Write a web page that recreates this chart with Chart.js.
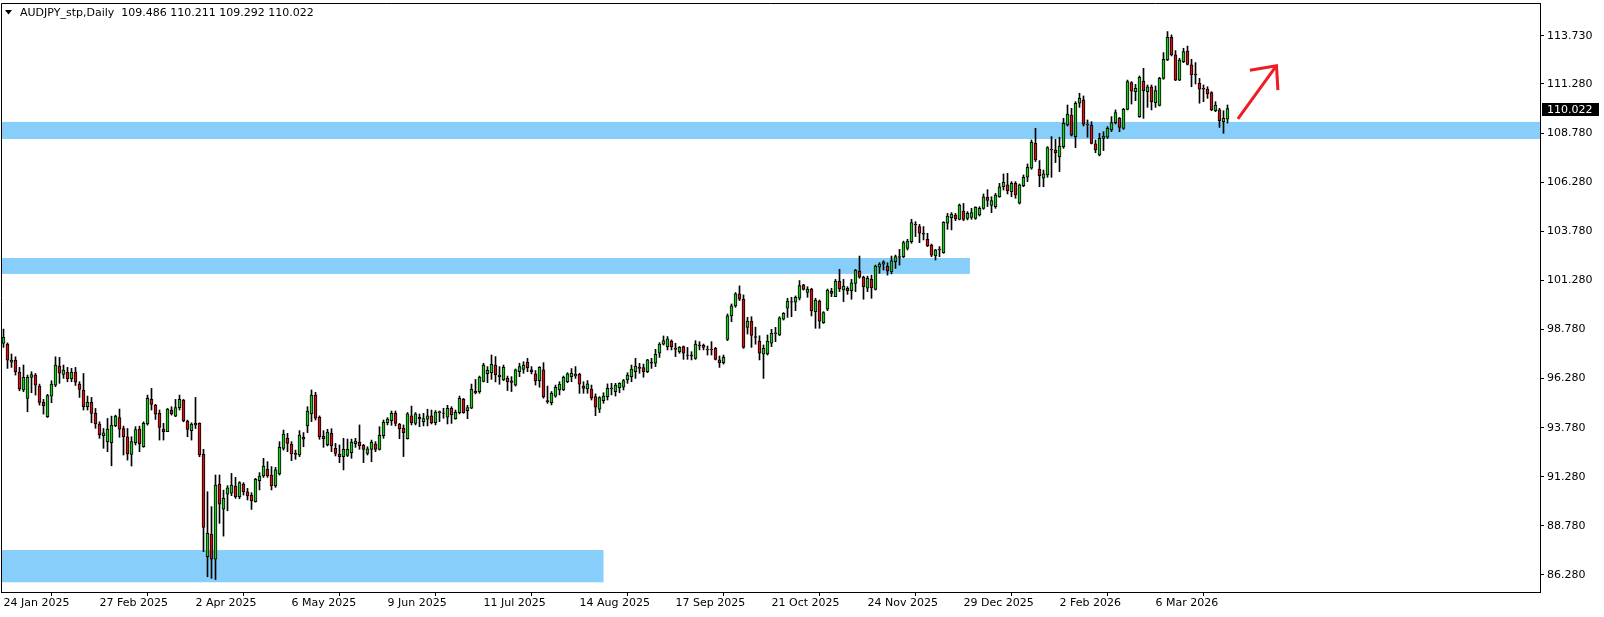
<!DOCTYPE html>
<html>
<head>
<meta charset="utf-8">
<script src="https://cdn.jsdelivr.net/npm/chart.js@4.4.1/dist/chart.umd.min.js"></script>
<style>
  html, body { margin: 0; padding: 0; background: #fff; }
  #wrap { width: 1604px; height: 617px; }
</style>
</head>
<body>
<div id="wrap"><canvas id="chart" width="1604" height="617"></canvas></div>
<script>
// ---------- DATA (AUDJPY daily) ----------
const symbolTitle = "AUDJPY_stp,Daily";

const opens = [
  98.07, 98.04, 97.11, 97.22, 96.61, 95.70, 95.27, 96.34, 96.46, 95.90,
  95.07, 94.34, 95.39, 95.95, 96.92, 96.49, 96.61, 96.27, 96.61, 96.00,
  95.70, 94.85, 95.07, 94.51, 93.97, 93.37, 93.07, 93.02, 93.88, 94.30,
  93.74, 93.32, 92.42, 93.02, 93.71, 92.81, 93.97, 95.22, 94.93, 94.51,
  93.71, 93.58, 94.68, 94.37, 94.80, 95.19, 94.12, 93.63, 94.00, 94.00,
  92.42, 87.21, 88.36, 87.08, 90.91, 89.63, 90.39, 90.44, 90.81, 90.27,
  90.91, 90.52, 90.35, 90.01, 91.08, 91.32, 91.66, 91.37, 90.81, 91.42,
  92.73, 93.24, 92.95, 92.47, 92.39, 93.29, 93.87, 94.48, 95.44, 94.31,
  93.34, 92.92, 93.49, 92.73, 92.44, 92.31, 92.37, 92.51, 92.97, 93.03,
  92.90, 92.47, 92.68, 92.95, 92.68, 93.37, 94.04, 94.14, 94.51, 93.95,
  93.75, 93.22, 94.38, 94.00, 94.31, 94.09, 94.22, 94.38, 94.04, 94.55,
  94.53, 94.31, 94.77, 94.24, 94.55, 95.22, 94.65, 94.78, 95.63, 95.61,
  96.14, 96.53, 96.58, 96.97, 96.46, 96.21, 96.29, 96.17, 95.95, 96.63,
  96.75, 97.11, 96.72, 96.52, 96.18, 96.72, 95.16, 95.06, 95.39, 95.70,
  95.70, 96.12, 96.38, 96.41, 96.50, 95.90, 95.75, 95.75, 95.36, 94.72,
  95.16, 95.36, 95.75, 95.62, 95.82, 95.84, 96.21, 96.38, 96.63, 96.85,
  96.84, 96.63, 97.11, 97.06, 97.57, 98.03, 97.91, 98.19, 97.82, 97.65,
  97.91, 97.48, 97.48, 97.31, 97.99, 97.99, 97.77, 97.77, 97.82, 97.23,
  97.09, 98.28, 99.47, 99.98, 100.59, 100.32, 98.89, 99.21, 98.42, 98.19,
  97.52, 97.53, 98.08, 98.57, 98.50, 99.30, 99.86, 100.20, 100.17, 100.37,
  101.05, 100.67, 100.84, 99.69, 100.23, 99.13, 99.81, 100.74, 100.45, 101.25,
  100.79, 100.88, 100.76, 101.13, 101.76, 101.44, 100.88, 101.33, 100.82, 101.95,
  102.11, 102.01, 101.72, 102.23, 102.45, 102.49, 102.91, 103.25, 104.13, 104.02,
  103.68, 103.37, 103.08, 102.52, 102.86, 102.69, 104.19, 104.47, 104.61, 104.39,
  104.81, 104.44, 104.49, 104.44, 104.61, 104.95, 105.51, 105.10, 105.04, 105.54,
  106.05, 106.14, 105.80, 106.22, 105.21, 106.10, 106.53, 106.99, 108.26, 106.94,
  106.48, 106.65, 107.96, 107.92, 107.58, 108.09, 109.19, 109.70, 108.60, 110.30,
  110.47, 109.23, 109.19, 108.23, 107.67, 108.51, 108.57, 108.94, 109.31, 109.53,
  109.02, 109.99, 111.35, 110.89, 109.62, 111.43, 110.89, 111.14, 110.33, 110.19,
  111.57, 112.50, 113.66, 112.76, 111.48, 112.42, 112.96, 112.25, 111.79, 111.31,
  111.06, 111.02, 110.84, 109.92, 109.96, 109.36, 109.486
];

const highs = [
  98.80, 98.10, 97.53, 97.39, 96.85, 96.97, 96.46, 96.63, 96.54, 96.00,
  95.22, 95.48, 96.17, 97.39, 97.36, 96.97, 96.85, 96.80, 96.85, 96.12,
  96.54, 95.39, 95.32, 94.76, 94.08, 93.74, 94.25, 94.37, 94.42, 94.73,
  93.86, 93.74, 93.32, 93.83, 93.86, 94.08, 95.44, 95.78, 94.97, 94.68,
  94.00, 94.76, 94.85, 95.22, 95.44, 95.22, 94.17, 94.03, 95.32, 94.03,
  92.68, 90.52, 89.76, 91.37, 91.37, 90.60, 90.83, 91.45, 91.25, 91.03,
  90.98, 90.69, 90.47, 91.20, 91.49, 92.22, 92.05, 91.80, 91.76, 93.07,
  93.66, 93.49, 93.07, 92.64, 93.63, 93.53, 94.85, 95.70, 95.58, 94.38,
  93.63, 93.70, 93.73, 92.98, 92.90, 93.24, 93.20, 93.20, 93.24, 93.92,
  92.93, 92.81, 93.15, 93.07, 93.83, 94.17, 94.29, 94.63, 94.63, 94.00,
  93.92, 94.55, 94.88, 94.55, 94.48, 94.51, 94.72, 94.68, 94.65, 94.63,
  94.77, 94.92, 94.85, 94.68, 95.39, 95.27, 94.92, 96.00, 96.24, 96.41,
  97.06, 96.89, 97.48, 97.40, 96.89, 96.97, 96.41, 96.38, 96.77, 97.06,
  97.14, 97.31, 96.89, 96.69, 96.89, 97.09, 95.90, 95.62, 95.95, 96.12,
  96.41, 96.58, 96.79, 96.89, 96.55, 96.12, 96.18, 95.95, 95.50, 95.36,
  95.56, 96.01, 96.04, 96.04, 96.07, 96.24, 96.58, 96.97, 97.31, 97.06,
  97.02, 97.26, 97.31, 97.77, 98.11, 98.45, 98.42, 98.25, 98.08, 97.91,
  97.94, 97.87, 97.65, 98.21, 98.16, 98.04, 97.94, 98.16, 97.87, 97.43,
  97.48, 99.57, 100.08, 100.66, 101.00, 100.54, 99.40, 99.43, 98.90, 98.46,
  97.99, 98.50, 98.79, 98.89, 99.43, 99.64, 100.37, 100.42, 100.49, 101.27,
  101.08, 100.96, 100.88, 100.37, 100.28, 99.69, 100.84, 100.88, 101.33, 101.84,
  101.33, 100.96, 101.33, 101.84, 102.52, 101.50, 101.50, 101.55, 102.06, 102.18,
  102.28, 102.18, 102.52, 102.57, 102.86, 103.28, 103.37, 104.39, 104.27, 104.13,
  104.02, 103.68, 103.13, 102.86, 103.00, 104.27, 104.69, 104.73, 104.69, 105.17,
  105.20, 104.78, 104.95, 105.03, 105.03, 105.68, 105.90, 105.54, 105.71, 106.22,
  106.70, 106.73, 106.31, 106.31, 106.19, 106.65, 107.21, 108.43, 109.02, 107.38,
  106.90, 108.09, 108.60, 108.46, 108.57, 109.53, 110.21, 110.04, 110.38, 110.81,
  110.67, 109.45, 109.36, 108.43, 108.77, 108.85, 109.11, 109.62, 109.96, 109.58,
  110.04, 111.48, 111.40, 111.26, 111.69, 112.08, 111.23, 111.23, 111.18, 111.62,
  112.88, 113.95, 113.78, 112.98, 112.59, 113.10, 113.21, 112.54, 112.37, 111.57,
  111.23, 111.14, 110.89, 110.38, 110.04, 109.92, 110.211
];

const lows = [
  97.87, 96.80, 96.85, 96.46, 95.66, 95.61, 94.59, 95.56, 95.44, 94.93,
  94.47, 94.30, 95.05, 95.87, 96.04, 96.29, 96.12, 96.12, 95.93, 95.32,
  94.68, 94.68, 94.03, 93.75, 93.24, 92.73, 92.56, 91.84, 93.83, 93.29,
  92.39, 92.13, 91.83, 92.90, 92.56, 92.78, 93.91, 94.68, 94.20, 93.15,
  93.15, 93.58, 94.42, 94.34, 94.68, 94.08, 93.32, 93.15, 93.74, 92.30,
  87.47, 86.19, 86.11, 86.05, 88.91, 88.26, 89.55, 90.32, 90.18, 90.16,
  90.35, 90.10, 89.62, 89.99, 90.61, 91.25, 91.25, 90.61, 90.74, 91.37,
  92.64, 92.56, 92.10, 92.17, 92.31, 92.81, 93.53, 94.09, 94.17, 93.19,
  92.78, 92.85, 92.56, 92.34, 92.00, 91.63, 92.31, 92.22, 92.78, 92.68,
  92.00, 92.39, 92.05, 92.56, 92.64, 93.24, 93.92, 93.90, 93.87, 93.22,
  92.31, 93.20, 93.92, 93.92, 93.83, 93.87, 93.87, 93.97, 93.92, 94.09,
  94.26, 93.97, 94.00, 94.21, 94.48, 94.51, 94.24, 94.75, 95.50, 95.53,
  96.11, 96.07, 96.24, 96.11, 95.99, 96.18, 95.67, 95.62, 95.90, 96.38,
  96.55, 96.63, 96.52, 95.95, 95.84, 95.28, 95.02, 94.94, 95.33, 95.45,
  95.67, 96.07, 96.12, 96.29, 95.53, 95.53, 95.53, 95.19, 94.39, 94.55,
  95.02, 95.19, 95.45, 95.39, 95.56, 95.70, 96.04, 96.12, 96.29, 96.55,
  96.35, 96.58, 96.80, 96.89, 97.36, 97.99, 97.74, 97.74, 97.40, 97.57,
  97.26, 97.26, 97.23, 97.26, 97.74, 97.74, 97.48, 97.48, 97.23, 96.85,
  97.02, 98.21, 99.18, 99.91, 100.25, 97.82, 98.55, 97.87, 98.03, 97.23,
  96.29, 97.48, 97.91, 98.16, 98.47, 99.26, 99.40, 99.43, 99.74, 100.28,
  100.79, 100.42, 99.47, 98.84, 98.84, 99.09, 99.74, 100.45, 100.45, 100.71,
  100.20, 100.57, 100.32, 100.71, 101.39, 100.32, 100.71, 100.37, 100.79, 101.64,
  101.81, 101.55, 101.61, 101.89, 102.06, 102.44, 102.83, 103.17, 103.51, 103.20,
  103.34, 103.00, 102.49, 102.32, 102.49, 102.66, 103.88, 103.85, 104.32, 104.36,
  104.32, 104.36, 104.39, 104.39, 104.56, 104.90, 105.04, 104.73, 104.95, 105.51,
  105.88, 105.68, 105.54, 105.46, 105.17, 106.05, 106.31, 106.94, 107.33, 106.05,
  106.05, 106.53, 106.53, 107.28, 106.82, 108.00, 109.14, 108.63, 108.04, 110.09,
  109.14, 108.57, 108.23, 107.78, 107.62, 107.89, 108.51, 108.85, 109.24, 108.85,
  108.97, 109.96, 110.26, 110.43, 109.58, 109.53, 110.09, 109.96, 110.09, 110.16,
  111.52, 112.47, 112.71, 111.45, 111.45, 112.37, 112.25, 111.14, 111.28, 110.30,
  110.38, 110.55, 109.92, 109.87, 109.07, 108.77, 109.292
];

const closes = [
  98.38, 97.22, 97.22, 96.63, 95.76, 96.34, 96.34, 96.49, 95.95, 95.07,
  94.90, 95.42, 96.00, 96.97, 96.55, 96.71, 96.27, 96.61, 96.10, 95.73,
  94.85, 95.07, 94.51, 93.97, 93.41, 93.52, 93.71, 93.91, 94.37, 93.71,
  93.32, 92.44, 93.07, 93.69, 92.95, 94.00, 95.27, 94.97, 94.47, 93.80,
  93.58, 94.73, 94.49, 94.81, 95.22, 94.12, 93.69, 93.97, 93.92, 92.39,
  88.70, 88.40, 87.08, 90.86, 89.88, 90.18, 90.72, 90.86, 90.27, 90.98,
  90.52, 90.30, 90.06, 91.15, 91.32, 91.83, 91.32, 90.81, 91.63, 92.78,
  93.46, 92.98, 92.45, 92.42, 93.41, 93.19, 94.63, 95.44, 94.26, 93.32,
  93.22, 93.56, 92.85, 92.47, 92.31, 92.68, 92.68, 93.05, 93.10, 92.87,
  92.68, 92.70, 93.03, 92.68, 93.39, 94.05, 94.22, 94.51, 94.00, 93.73,
  93.53, 94.48, 94.04, 94.48, 94.24, 94.24, 94.39, 94.04, 94.58, 94.60,
  94.51, 94.77, 94.43, 94.56, 95.27, 94.55, 94.80, 95.73, 95.56, 96.36,
  96.97, 96.70, 97.01, 96.48, 96.38, 96.85, 96.12, 96.09, 96.72, 96.89,
  96.97, 96.84, 96.63, 96.18, 96.85, 95.36, 95.11, 95.53, 95.84, 95.99,
  96.35, 96.52, 96.55, 96.50, 95.99, 95.78, 96.01, 95.28, 94.82, 95.31,
  95.39, 95.78, 95.80, 95.95, 96.04, 96.18, 96.46, 96.77, 96.92, 96.80,
  96.63, 97.23, 97.06, 97.52, 98.04, 98.21, 98.30, 97.91, 97.77, 97.87,
  97.57, 97.46, 97.43, 98.04, 97.94, 97.87, 97.74, 97.74, 97.26, 97.09,
  97.36, 99.47, 99.98, 100.59, 100.32, 97.87, 99.21, 98.48, 98.38, 97.57,
  97.82, 98.19, 98.58, 98.61, 99.38, 99.60, 100.23, 100.17, 100.42, 101.01,
  100.82, 100.84, 99.72, 100.28, 99.21, 99.64, 100.79, 100.62, 101.25, 100.84,
  100.99, 100.76, 101.16, 101.81, 101.44, 100.96, 101.39, 100.91, 102.01, 102.11,
  102.23, 101.76, 102.27, 102.49, 102.49, 103.20, 103.28, 104.22, 104.10, 103.68,
  103.63, 103.03, 102.57, 102.83, 102.83, 104.24, 104.56, 104.66, 104.41, 105.12,
  104.39, 104.69, 104.73, 105.00, 104.95, 105.54, 105.35, 105.34, 105.63, 106.05,
  106.27, 105.85, 106.22, 105.63, 106.14, 106.53, 107.04, 108.31, 107.41, 106.61,
  106.70, 108.04, 107.92, 107.78, 108.12, 109.28, 109.75, 108.68, 110.30, 110.55,
  109.23, 109.21, 108.26, 107.92, 108.51, 108.63, 109.02, 109.31, 109.82, 109.07,
  109.99, 111.40, 110.92, 111.06, 111.62, 110.94, 111.14, 110.38, 110.94, 111.57,
  112.54, 113.66, 112.76, 111.48, 112.50, 112.93, 112.28, 111.74, 111.74, 111.02,
  111.02, 110.77, 109.96, 110.21, 109.41, 109.53, 110.022
];

// date labels every 24 bars
const tickEvery = 24;
const dateLabels = [
  "24 Jan 2025", "27 Feb 2025", "2 Apr 2025", "6 May 2025", "9 Jun 2025",
  "11 Jul 2025", "14 Aug 2025", "17 Sep 2025", "21 Oct 2025", "24 Nov 2025",
  "29 Dec 2025", "2 Feb 2026", "6 Mar 2026"
];

// price scale labels
const priceTicks = [86.28, 88.78, 91.28, 93.78, 96.28, 98.78, 101.28, 103.78, 106.28, 108.78, 111.28, 113.73];

// support zones (bar index from/to, price low/high)
const zoneFrom = [-5, -5, -5];
const zoneTo   = [500, 241.6, 150.0];
const zoneLow  = [108.48, 101.61, 85.91];
const zoneHigh = [109.35, 102.42, 87.55];

// red arrow (bar index, price)
const arrowX = [308.6, 318.25];
const arrowY = [109.50, 112.21];
const arrowHeadX = [311.6, 318.6];
const arrowHeadY = [111.98, 110.97];

// ---------- build datasets ----------
const UP = "#1ec81e", DOWN = "#cc1414";
const n = closes.length;
const wickData = [], bodyData = [], bodyColors = [];
for (let i = 0; i < n; i++) {
  wickData.push({ x: i, y: [lows[i], highs[i]] });
  bodyData.push({ x: i, y: [opens[i], closes[i]] });
  bodyColors.push(closes[i] >= opens[i] ? UP : DOWN);
}
const last = closes[n - 1];

Chart.defaults.font.family = "'DejaVu Sans', sans-serif";
Chart.defaults.font.size = 11;
Chart.defaults.color = "#000";

// no extra label padding around the plot
function noPad(s) {
  s.paddingTop = 0; s.paddingBottom = 0; s.paddingLeft = 0; s.paddingRight = 0;
}

const overlay = {
  id: "overlay",
  beforeDatasetsDraw(chart) {
    const { ctx, chartArea: a, scales: { x, y } } = chart;
    ctx.save();
    ctx.beginPath();
    ctx.rect(a.left, a.top, a.right - a.left, a.bottom - a.top);
    ctx.clip();
    ctx.fillStyle = "#87cefa";
    for (let k = 0; k < zoneLow.length; k++) {
      const x1 = Math.max(a.left, x.getPixelForValue(zoneFrom[k]));
      const x2 = Math.min(a.right, x.getPixelForValue(zoneTo[k]));
      const y1 = y.getPixelForValue(zoneHigh[k]);
      const y2 = y.getPixelForValue(zoneLow[k]);
      ctx.fillRect(x1, y1, x2 - x1, y2 - y1);
    }
    ctx.restore();
  },
  afterDraw(chart) {
    const { ctx, chartArea: a, scales: { x, y } } = chart;
    ctx.save();
    // frame
    ctx.strokeStyle = "#000";
    ctx.lineWidth = 1;
    ctx.beginPath();
    ctx.moveTo(a.left + 0.5, a.bottom);
    ctx.lineTo(a.left + 0.5, a.top + 0.5);
    ctx.lineTo(a.right, a.top + 0.5);
    ctx.stroke();

    // arrow
    ctx.strokeStyle = "#ee1c24";
    ctx.lineWidth = 3;
    const tx = x.getPixelForValue(arrowX[1]), ty = y.getPixelForValue(arrowY[1]);
    ctx.beginPath();
    ctx.moveTo(x.getPixelForValue(arrowX[0]), y.getPixelForValue(arrowY[0]));
    ctx.lineTo(tx, ty);
    ctx.stroke();
    ctx.beginPath();
    ctx.moveTo(x.getPixelForValue(arrowHeadX[0]), y.getPixelForValue(arrowHeadY[0]));
    ctx.lineTo(tx, ty);
    ctx.lineTo(x.getPixelForValue(arrowHeadX[1]), y.getPixelForValue(arrowHeadY[1]));
    ctx.stroke();

    // last price box
    const py = Math.round(y.getPixelForValue(last));
    ctx.fillStyle = "#000";
    ctx.fillRect(a.right + 2, py - 6, 57, 13);
    ctx.fillStyle = "#fff";
    ctx.font = "11px 'DejaVu Sans'";
    ctx.textBaseline = "middle";
    ctx.textAlign = "left";
    ctx.fillText(last.toFixed(3), a.right + 7, py + 1);

    // title
    ctx.fillStyle = "#000";
    ctx.beginPath();
    ctx.moveTo(5, 10); ctx.lineTo(12, 10); ctx.lineTo(8.5, 14.5); ctx.closePath();
    ctx.fill();
    const t = symbolTitle + "  " + [opens[n - 1], highs[n - 1], lows[n - 1], closes[n - 1]].map(v => v.toFixed(3)).join(" ");
    ctx.fillText(t, 20, 13);
    ctx.restore();
  }
};

new Chart(document.getElementById("chart"), {
  type: "bar",
  data: {
    datasets: [
      {
        label: "body",
        data: bodyData,
        backgroundColor: bodyColors,
        borderColor: "#000",
        borderWidth: 1,
        borderSkipped: false,
        barThickness: 3,
        grouped: false,
        order: 0
      },
      {
        label: "wick",
        data: wickData,
        backgroundColor: "#000",
        borderWidth: 0,
        barThickness: 1,
        grouped: false,
        order: 1
      }
    ]
  },
  options: {
    responsive: false,
    animation: false,
    devicePixelRatio: 1,
    layout: { padding: { left: 1, top: 3, right: 0, bottom: 0 } },
    plugins: { legend: { display: false }, tooltip: { enabled: false } },
    scales: {
      x: {
        type: "linear",
        offset: false,
        min: -0.625,
        max: 384.125,
        afterFit(s) { s.height = 25; noPad(s); },
        afterBuildTicks(s) {
          s.ticks = dateLabels.map((_, k) => ({ value: k * tickEvery }));
        },
        ticks: {
          autoSkip: false,
          maxRotation: 0,
          align: "start",
          padding: 1,
          callback: (v) => dateLabels[Math.round(v / tickEvery)] || ""
        },
        grid: { drawOnChartArea: false, drawTicks: true, tickLength: 4, color: "#000" },
        border: { display: true, color: "#000" }
      },
      y: {
        position: "right",
        min: 85.414,
        max: 115.404,
        afterFit(s) { s.width = 64; noPad(s); },
        afterBuildTicks(s) {
          s.ticks = priceTicks.map(v => ({ value: v }));
        },
        ticks: {
          padding: 3,
          callback: (v) => Number(v).toFixed(3)
        },
        grid: { drawOnChartArea: false, drawTicks: true, tickLength: 4, color: "#000" },
        border: { display: true, color: "#000" }
      }
    }
  },
  plugins: [overlay]
});
</script>
</body>
</html>
